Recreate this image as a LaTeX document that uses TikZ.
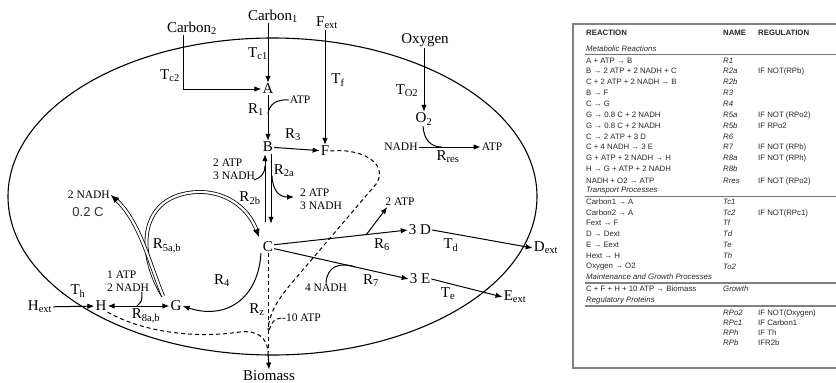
\documentclass[tikz,border=0pt]{standalone}
\usepackage{fontspec}
\setmainfont{Liberation Serif}
\newfontfamily\tabfont{Liberation Sans}
\usetikzlibrary{arrows.meta}
\newcommand\tabrow[3]{%
  \node[tab] (ra#1) at (586,#1) {#2};
  \node[tabi] (rb#1) at (723,#1) {#3};}
\begin{document}
\begin{tikzpicture}[x=1pt,y=-1pt,
  lbl/.style={font=\fontsize{15}{17}\selectfont, inner sep=1pt},
  sm/.style={font=\fontsize{11.5}{13}\selectfont, inner sep=1pt},
  arr/.style={line width=1pt, -{Latex[length=7pt,width=5.5pt]}},
  ln/.style={line width=1pt},
  dsh/.style={line width=1pt, dash pattern=on 4pt off 3pt},
  dbl/.style={double, double distance=2.2pt, line width=0.8pt, -{Latex[length=8pt,width=7pt]}},
  tab/.style={anchor=west, inner sep=0pt, font=\tabfont\fontsize{7.8}{9}\selectfont, text=black!85},
  tabi/.style={tab, font=\tabfont\itshape\fontsize{7.8}{9}\selectfont},
  tabb/.style={tab, font=\tabfont\bfseries\fontsize{7.8}{9}\selectfont},
  rule/.style={draw=black!55, line width=0.7pt},
  trule/.style={draw=black!50, line width=1.4pt}
]
\useasboundingbox (0,0) rectangle (836,383);

% cell membrane
\draw[line width=1.1pt] (272.5,196.5) ellipse [x radius=264.5, y radius=158.5];

% main nodes
\node[lbl] (carbon2) at (192,28) {Carbon\textsubscript{2}};
\node[lbl] (carbon1) at (273,16) {Carbon\textsubscript{1}};
\node[lbl] (fext) at (327,23) {F\textsubscript{ext}};
\node[lbl] (oxygen) at (425,40) {Oxygen};
\node[lbl] (A) at (268,89) {A};
\node[lbl] (B) at (268,147) {B};
\node[lbl] (F) at (325,151) {F};
\node[lbl] (C) at (268,247) {C};
\node[lbl] (G) at (176,306) {G};
\node[lbl] (H) at (101,306) {H};
\node[lbl] (hext) at (40,307) {H\textsubscript{ext}};
\node[lbl] (d3) at (420,230) {3 D};
\node[lbl] (e3) at (420,279) {3 E};
\node[lbl] (dext) at (546,248) {D\textsubscript{ext}};
\node[lbl] (eext) at (515,297) {E\textsubscript{ext}};
\node[lbl] (o2) at (424,119) {O\textsubscript{2}};
\node[sm] (nadhres) at (401,147) {NADH};
\node[sm] (atpres) at (492,147) {ATP};
\node[lbl, anchor=south] (biomass) at (269,382) {Biomass};

% labels
\node[lbl] (tc2) at (170,76) {T\textsubscript{c2}};
\node[lbl] (tc1) at (258,54) {T\textsubscript{c1}};
\node[lbl] (tf) at (338,80) {T\textsubscript{f}};
\node[lbl] (to2) at (407,91) {T\textsubscript{O2}};
\node[lbl] (r1) at (256,110) {R\textsubscript{1}};
\node[sm] (atp1) at (300,100) {ATP};
\node[lbl] (r3) at (293,135) {R\textsubscript{3}};
\node[lbl] (r2a) at (284,171) {R\textsubscript{2a}};
\node[lbl] (r2b) at (250,198) {R\textsubscript{2b}};
\node[sm, align=left, anchor=west] (r2bl) at (212,169) {2 ATP\\3 NADH};
\node[sm, align=left, anchor=west] (r2ar) at (299,199) {2 ATP\\3 NADH};
\node[lbl] (r5) at (167,246) {R\textsubscript{5a,b}};
\node[sm, anchor=east] (nadh5) at (111,195) {2 NADH};
\node[font=\tabfont\fontsize{13}{15}\selectfont, inner sep=1pt, text=black!80] (c02) at (88,212) {0.2 C};
\node[sm, align=left, anchor=west] (r8l) at (106,281) {1 ATP\\2 NADH};
\node[lbl] (r8) at (146,316) {R\textsubscript{8a,b}};
\node[lbl] (th) at (78,291) {T\textsubscript{h}};
\node[lbl] (r4) at (222,281) {R\textsubscript{4}};
\node[lbl] (rz) at (257,310) {R\textsubscript{z}};
\node[sm, anchor=west] (atp10) at (281,318) {-10 ATP};
\node[lbl] (r6) at (382,245) {R\textsubscript{6}};
\node[lbl] (r7) at (371,281) {R\textsubscript{7}};
\node[sm] (nadh7) at (326,288) {4 NADH};
\node[sm] (atp6) at (400,202) {2 ATP};
\node[lbl] (td) at (451,245) {T\textsubscript{d}};
\node[lbl] (te) at (448,294) {T\textsubscript{e}};
\node[lbl] (rres) at (448,157) {R\textsubscript{res}};

% helper coordinates
\coordinate (c2x) at (183,0);
\coordinate (r1j) at (268,114);
\coordinate (r2bj) at (265,166);
\coordinate (r2bs) at (254,180);
\coordinate (r2as) at (272,176);
\coordinate (r2ae) at (294,197);
\coordinate (r5s) at (163,296);
\coordinate (r8s) at (142,292);
\coordinate (r8e) at (137,306);
\coordinate (bz) at (268,352);
\coordinate (fz) at (268,330);
\coordinate (az) at (268,333);

% transport arrows
\draw[arr] (A |- carbon1.south) -- (A);
\draw[arr] (carbon2.south -| c2x) |- (A);
\draw[arr] (F |- fext.south) -- (F);
\draw[arr] (o2 |- oxygen.south) -- (o2);
\draw[arr] (hext) -- (H);
\draw[arr] (d3.east) -- (dext.west);
\draw[arr] (e3.east) -- (eext.west);

% reactions
\draw[arr] (A) -- (B);
\draw[ln] (atp1.west) .. controls (277,99) and (269,104) .. (r1j);
\draw[arr] (B) -- (F);
\draw[arr, shorten <=19pt, shorten >=1pt] ([xshift=-3pt]C.north) -- ([xshift=-3pt]B.south);
\draw[arr, shorten <=1pt, shorten >=17pt] ([xshift=3pt]B.south) -- ([xshift=3pt]C.north);
\draw[ln] (r2bs) .. controls (261,178) and (265,173) .. (r2bj);
\draw[arr] (r2as) .. controls (273,192) and (280,197) .. (r2ae);
\draw[arr] ([xshift=-7pt]C.south) .. controls (258,300) and (225,320) .. (G.east);
\draw[dbl] (r5s) .. controls (135,250) and (140,195) .. (197,192) .. controls (230,191) and (250,212) .. (259,237);
\draw[dbl] (r5s) .. controls (150,265) and (140,222) .. (nadh5.east);
\draw[line width=1pt, {Latex[length=7pt,width=5.5pt]}-{Latex[length=7pt,width=5.5pt]}] (H) -- (G);
\draw[ln] (r8s) .. controls (142,301) .. (r8e);
\draw[arr] (C.20) -- coordinate[pos=0.69] (r6b) (d3.west);
\draw[arr] (r6b) -- ([xshift=3pt]atp6.south west);
\draw[arr] (C.-15) -- coordinate[pos=0.6] (r7b) (e3.west);
\draw[ln] (nadh7.north) .. controls (327,266) and (340,262) .. (r7b);
\draw[arr] (nadhres.east) -- coordinate[pos=0.37] (rresb) (atpres.west);
\draw[ln] ([xshift=-1pt]o2.south) .. controls (424,140) and (431,147) .. (rresb);

% growth (dashed)
\draw[dsh] (C.south) -- (bz);
\draw[arr] (bz) -- (biomass.north);
\draw[dsh] (F.east) .. controls (360,148) and (388,162) .. (377,183) -- (290,285) .. controls (276,302) and (269,315) .. (fz);
\draw[dsh] (atp10.west) .. controls (273,320) .. (az);
\draw[dsh] (H.south east) .. controls (135,328) and (185,340) .. (240,332) .. controls (258,330) and (267,338) .. (bz);

% ---------------- table ----------------
\draw[trule] (836,24) -- (573,24) -- (573,368) -- (836,368);
\draw[rule] (585,54) -- (836,54);
\draw[rule] (585,196) -- (836,196);
\draw[trule] (585,283) -- (836,283);
\draw[trule] (585,306) -- (836,306);

\node[tabb] (hreac) at (586,33) {REACTION};
\node[tabb] (hname) at (723,33) {NAME};
\node[tabb] (hreg) at (758,33) {REGULATION};
\node[tabi] (smet) at (586,49) {Metabolic Reactions};
\tabrow{61}{A + ATP → B}{R1}
\tabrow{71}{B → 2 ATP + 2 NADH + C}{R2a}
\tabrow{82}{C + 2 ATP + 2 NADH → B}{R2b}
\tabrow{93}{B → F}{R3}
\tabrow{104}{C → G}{R4}
\tabrow{115}{G → 0.8 C + 2 NADH}{R5a}
\tabrow{126}{G → 0.8 C + 2 NADH}{R5b}
\tabrow{137}{C → 2 ATP + 3 D}{R6}
\tabrow{147}{C + 4 NADH → 3 E}{R7}
\tabrow{158}{G + ATP + 2 NADH → H}{R8a}
\tabrow{169}{H → G + ATP + 2 NADH}{R8b}
\tabrow{181}{NADH + O2 → ATP}{Rres}
\node[tabi] (stra) at (586,191) {Transport Processes};
\tabrow{202}{Carbon1 → A}{Tc1}
\tabrow{213}{Carbon2 → A}{Tc2}
\tabrow{223}{Fext → F}{Tf}
\tabrow{234}{D → Dext}{Td}
\tabrow{245}{E → Eext}{Te}
\tabrow{256}{Hext → H}{Th}
\tabrow{267}{Oxygen → O2}{To2}
\node[tabi] (smai) at (586,277) {Maintenance and Growth Processes};
\tabrow{289}{C + F + H + 10 ATP → Biomass}{Growth}
\node[tabi] (sreg) at (586,300) {Regulatory Proteins};
\node[tabi] (p1) at (723,313) {RPo2};
\node[tabi] (p2) at (723,323) {RPc1};
\node[tabi] (p3) at (723,333) {RPh};
\node[tabi] (p4) at (723,343) {RPb};

\node[tab] (g71) at (758,71) {IF NOT(RPb)};
\node[tab] (g115) at (758,115) {IF NOT (RPo2)};
\node[tab] (g126) at (758,126) {IF RPo2};
\node[tab] (g147) at (758,147) {IF NOT (RPb)};
\node[tab] (g158) at (758,158) {IF NOT (RPh)};
\node[tab] (g181) at (758,181) {IF NOT (RPo2)};
\node[tab] (g213) at (758,213) {IF NOT(RPc1)};
\node[tab] (g313) at (758,313) {IF NOT(Oxygen)};
\node[tab] (g323) at (758,323) {IF Carbon1};
\node[tab] (g333) at (758,333) {IF Th};
\node[tab] (g343) at (758,343) {IFR2b};
\end{tikzpicture}
\end{document}
